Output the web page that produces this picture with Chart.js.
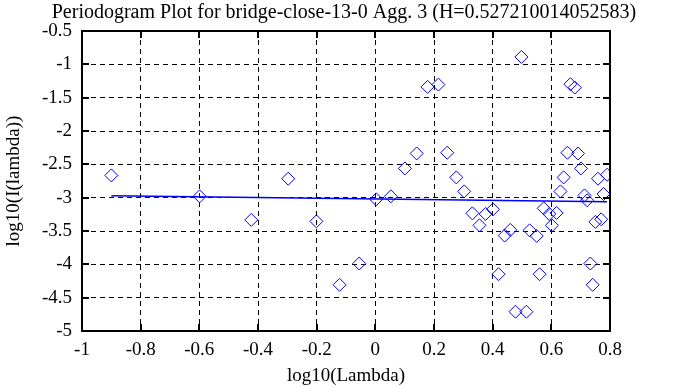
<!DOCTYPE html>
<html>
<head>
<meta charset="utf-8">
<script src="https://cdn.jsdelivr.net/npm/chart.js@4.4.1/dist/chart.umd.min.js"></script>
<style>
  html, body { margin: 0; padding: 0; background: #fff; }
  #plot { display: block; }
</style>
</head>
<body>
<canvas id="plot" width="688" height="387"></canvas>
<script>
// periodogram points, log10(lambda) vs log10(I(lambda))
const logLambda = [-0.900, -0.599, -0.423, -0.297, -0.201, -0.122, -0.055, 0.003, 0.053, 0.101,
  0.141, 0.178, 0.215, 0.245, 0.276, 0.303, 0.331, 0.355, 0.376, 0.401,
  0.420, 0.441, 0.460, 0.478, 0.498, 0.515, 0.526, 0.550, 0.560, 0.574,
  0.593, 0.602, 0.618, 0.631, 0.642, 0.655, 0.665, 0.680, 0.691, 0.701,
  0.713, 0.722, 0.733, 0.741, 0.750, 0.759, 0.770, 0.778, 0.790];
const logPower = [-2.666, -2.980, -3.334, -2.716, -3.355, -4.307, -3.988, -3.025, -2.980, -2.561,
  -2.337, -1.338, -1.304, -2.326, -2.696, -2.906, -3.235, -3.415, -3.244, -3.175,
  -4.148, -3.569, -3.484, -4.711, -0.889, -4.711, -3.490, -3.573, -4.148, -3.160,
  -3.244, -3.415, -3.229, -2.906, -2.696, -2.326, -1.298, -1.348, -2.337, -2.561,
  -2.966, -3.040, -3.988, -4.307, -3.364, -2.716, -3.325, -2.945, -2.656];

// least squares fit line endpoints
const fitX = [-0.900, 0.790];
const fitY = [-2.970, -3.060];

const xTicks = [-1, -0.8, -0.6, -0.4, -0.2, 0, 0.2, 0.4, 0.6, 0.8];
const yTicks = [-0.5, -1, -1.5, -2, -2.5, -3, -3.5, -4, -4.5, -5];

const serif = 'Liberation Serif, Times New Roman, serif';
const fmt = v => String(Math.round(v * 10) / 10);

// gnuplot style frame with inward ticks on all four sides
const framePlugin = {
  id: 'frame',
  afterDraw(chart) {
    const { ctx, chartArea: a, scales } = chart;
    const len = 7;
    ctx.save();
    ctx.strokeStyle = '#000';
    ctx.lineWidth = 2;
    ctx.beginPath();
    xTicks.forEach(v => {
      const px = Math.round(scales.x.getPixelForValue(v));
      ctx.moveTo(px, a.bottom); ctx.lineTo(px, a.bottom - len);
      ctx.moveTo(px, a.top); ctx.lineTo(px, a.top + len);
    });
    yTicks.forEach(v => {
      const py = Math.round(scales.y.getPixelForValue(v));
      ctx.moveTo(a.left, py); ctx.lineTo(a.left + len, py);
      ctx.moveTo(a.right, py); ctx.lineTo(a.right - len, py);
    });
    ctx.stroke();
    ctx.strokeRect(a.left, a.top, a.right - a.left, a.bottom - a.top);
    ctx.restore();
  }
};

new Chart(document.getElementById('plot'), {
  type: 'scatter',
  data: {
    datasets: [
      {
        data: logLambda.map((x, i) => ({ x: x, y: logPower[i] })),
        pointStyle: 'rectRot',
        pointRadius: 6.5,
        pointBorderWidth: 1,
        pointBorderColor: '#0000ff',
        pointBackgroundColor: 'rgba(0,0,0,0)',
        showLine: false
      },
      {
        type: 'line',
        data: fitX.map((x, i) => ({ x: x, y: fitY[i] })),
        borderColor: '#0000ff',
        borderWidth: 1.5,
        pointRadius: 0,
        fill: false
      }
    ]
  },
  options: {
    responsive: false,
    devicePixelRatio: 1,
    animation: false,
    layout: { padding: 0 },
    plugins: {
      legend: { display: false },
      tooltip: { enabled: false },
      title: {
        display: true,
        text: 'Periodogram Plot for bridge-close-13-0 Agg. 3 (H=0.527210014052583)',
        color: '#000',
        font: { family: serif, size: 20, weight: 'normal', lineHeight: 1 },
        padding: { top: 3, bottom: 8 }
      }
    },
    scales: {
      x: {
        type: 'linear',
        min: -1,
        max: 0.8,
        afterBuildTicks: s => { s.ticks = xTicks.map(v => ({ value: v })); },
        afterFit: s => { s.height = 56; },
        grid: { color: '#000', lineWidth: 1, drawTicks: false },
        border: { display: false, dash: [5, 4] },
        ticks: {
          color: '#000',
          padding: 8,
          maxRotation: 0,
          autoSkip: false,
          font: { family: serif, size: 19 },
          callback: fmt
        },
        title: {
          display: true,
          text: 'log10(Lambda)',
          color: '#000',
          font: { family: serif, size: 19 },
          padding: 0
        }
      },
      y: {
        type: 'linear',
        min: -5,
        max: -0.5,
        afterBuildTicks: s => { s.ticks = yTicks.slice().reverse().map(v => ({ value: v })); },
        afterFit: s => { s.width = 82; },
        grid: { color: '#000', lineWidth: 1, drawTicks: false },
        border: { display: false, dash: [5, 4] },
        ticks: {
          color: '#000',
          padding: 10,
          autoSkip: false,
          font: { family: serif, size: 19 },
          callback: fmt
        },
        title: {
          display: true,
          text: 'log10(I(lambda))',
          color: '#000',
          font: { family: serif, size: 19 },
          padding: { top: 3, bottom: 0 }
        }
      },
      // empty right-hand strip so the title centres on the whole canvas
      yRight: {
        type: 'linear',
        position: 'right',
        afterFit: s => { s.width = 78; },
        grid: { drawOnChartArea: false, drawTicks: false },
        border: { display: false },
        ticks: { display: false }
      }
    }
  },
  plugins: [framePlugin]
});
</script>
</body>
</html>
